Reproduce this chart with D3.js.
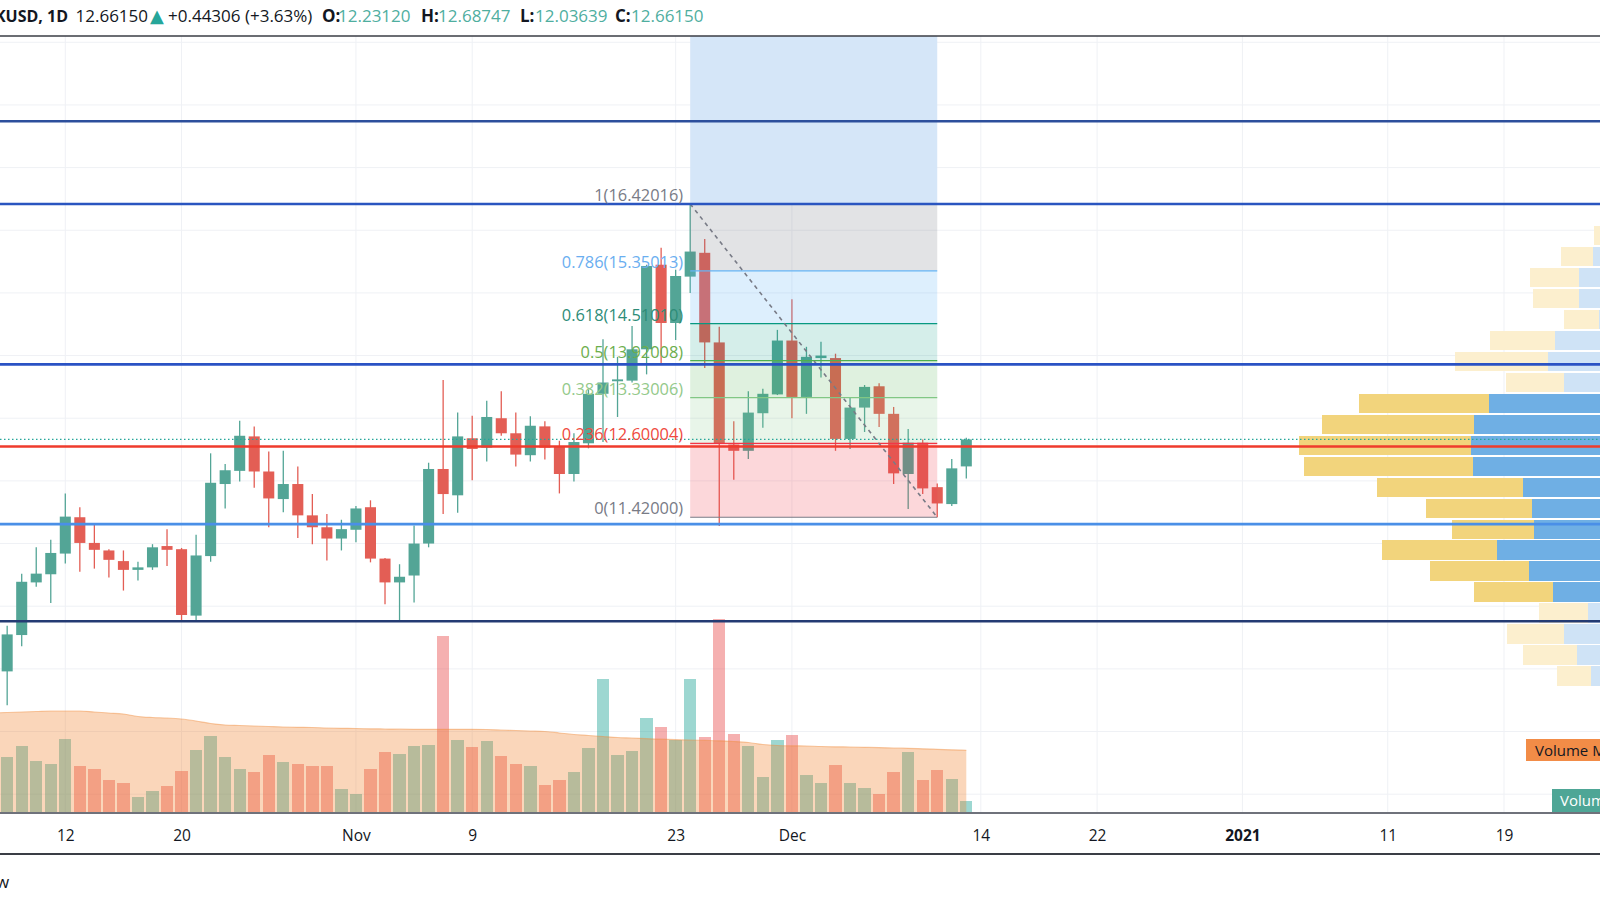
<!DOCTYPE html>
<html>
<head>
<meta charset="utf-8">
<script src="https://cdn.jsdelivr.net/npm/d3@7"></script>
<style>
body { margin: 0; background: #fff; }
svg { display: block; font-family: "Open Sans", "DejaVu Sans", sans-serif; }
</style>
</head>
<body>
<div id="chart-area"></div>
<script>
/*
*    LINKUSD daily candles, volume, fib retracement, visible range volume profile
*/

var width = 1600;
var height = 900;
var plotTop = 36;
var plotBottom = 813;

// daily bars, Oct 7 2020 .. Dec 13 2020 (first one sits just off the left edge)
var firstDay = "2020-10-07";
var lastDay = "2020-12-13";

var opens = [9.30, 8.96, 9.54, 10.38, 10.51, 10.84, 11.42, 11.01, 10.89, 10.72, 10.58, 10.62, 10.96, 10.91, 9.85, 10.80, 11.95, 12.16, 12.71, 12.15, 11.71, 11.95, 11.45, 11.26, 11.08,
    11.22, 11.58, 10.76, 10.38, 10.49, 11.00, 12.19, 11.77, 12.68, 12.53, 13.00, 12.76, 12.41, 12.87, 12.55, 12.11, 12.60, 13.39, 13.59, 13.60, 14.10, 15.45, 14.52, 15.26, 15.64, 14.21, 12.58, 12.48, 13.08, 13.38,
    14.24, 13.34, 13.96, 13.96, 12.67, 13.17, 13.51, 13.07, 12.11, 12.61, 11.90, 11.63, 12.2312];
var highs = [9.45, 9.69, 10.52, 10.94, 11.06, 11.80, 11.58, 11.31, 10.91, 10.89, 10.71, 10.99, 11.23, 10.93, 11.14, 12.44, 12.27, 12.96, 12.87, 12.47, 12.48, 12.23, 11.79, 11.47, 11.38,
    11.60, 11.69, 10.77, 10.67, 11.29, 12.29, 13.61, 13.09, 13.04, 13.28, 13.43, 13.09, 13.03, 12.95, 12.64, 12.76, 13.46, 14.26, 13.98, 14.47, 15.45, 15.72, 15.37, 16.42016, 15.86, 14.46, 12.95, 13.43, 13.47, 14.41,
    14.90, 14.14, 14.22, 14.03, 13.34, 13.53, 13.56, 13.18, 12.83, 12.66, 11.96, 12.35, 12.68747];
var lows = [8.85, 8.42, 9.36, 10.31, 10.05, 10.68, 10.55, 10.60, 10.46, 10.25, 10.41, 10.58, 10.64, 9.77, 9.78, 10.71, 11.56, 11.99, 11.89, 11.26, 11.50, 11.09, 10.99, 10.73, 10.89,
    11.02, 10.70, 10.03, 9.76, 10.06, 10.94, 11.47, 11.49, 12.01, 12.31, 12.72, 12.23, 12.31, 12.34, 11.80, 11.99, 12.52, 12.62, 13.02, 13.57, 13.70, 13.88, 14.25, 15.00, 13.80, 11.28, 12.02, 12.35, 12.85, 13.37,
    13.00, 13.07, 13.65, 12.48, 12.51, 12.78, 12.86, 11.95, 11.55, 11.79, 11.42, 11.60, 12.03639];
var closes = [8.96, 9.55, 10.39, 10.52, 10.85, 11.43, 11.01, 10.90, 10.74, 10.58, 10.62, 10.94, 10.90, 9.86, 10.81, 11.97, 12.17, 12.72, 12.15, 11.72, 11.95, 11.45, 11.26, 11.08, 11.23,
    11.56, 10.76, 10.38, 10.47, 11.00, 12.19, 11.79, 12.71, 12.51, 13.02, 12.76, 12.42, 12.88, 12.53, 12.11, 12.62, 13.39, 13.57, 13.62, 14.10, 15.43, 14.52, 15.27, 15.66, 14.21, 12.59, 12.48, 13.09, 13.39, 14.24,
    13.34, 13.98, 14.00, 12.67, 13.17, 13.50, 13.07, 12.12, 12.61, 11.88, 11.64, 12.20, 12.6615];
// volume in millions
var volumes = [6.0, 5.57, 6.7, 5.23, 4.87, 7.4, 4.73, 4.37, 3.27, 3.03, 1.57, 2.2, 2.7, 4.17, 6.33, 7.73, 5.57, 4.43, 4.1, 5.83, 5.07, 4.93, 4.67, 4.73, 2.43,
    1.87, 4.43, 6.13, 5.9, 6.73, 6.83, 17.7, 7.3, 6.57, 7.23, 5.7, 4.87, 4.67, 2.83, 3.33, 4.1, 6.53, 13.43, 5.8, 6.17, 9.53, 8.57, 7.3, 13.43, 7.6, 19.37, 7.93, 6.7, 3.63, 7.3,
    7.77, 3.77, 3.0, 4.8, 3.0, 2.5, 1.9, 4.1, 6.07, 3.33, 4.3, 3.4, 1.17];
var volumeMA = [10.0, 10.05, 10.1, 10.15, 10.2, 10.2, 10.2, 10.1, 10.0, 9.9, 9.65, 9.55, 9.5, 9.4, 9.2, 8.95, 8.8, 8.75, 8.7, 8.65, 8.6, 8.57, 8.55, 8.5, 8.47,
    8.45, 8.42, 8.4, 8.38, 8.37, 8.37, 8.37, 8.37, 8.37, 8.35, 8.3, 8.25, 8.2, 8.15, 8.0, 7.85, 7.75, 7.65, 7.55, 7.5, 7.43, 7.38, 7.33, 7.3, 7.26, 7.22, 7.15, 7.05, 6.85, 6.75,
    6.72, 6.7, 6.65, 6.62, 6.6, 6.57, 6.54, 6.5, 6.47, 6.42, 6.37, 6.32, 6.27];

// date axis
var tickDays = ["2020-10-12", "2020-10-20", "2020-11-01", "2020-11-09", "2020-11-23", "2020-12-01", "2020-12-14", "2020-12-22", "2021-01-01", "2021-01-11", "2021-01-19"];
var tickLabels = ["12", "20", "Nov", "9", "23", "Dec", "14", "22", "2021", "11", "19"];

// fib retracement drawn from the Nov 24 high to the Dec 11 low
var fibAnchors = ["2020-11-24", "2020-12-11"];
var fibRatios = [1, 0.786, 0.618, 0.5, 0.382, 0.236, 0];
var fibPrices = [16.42016, 15.35013, 14.51010, 13.92008, 13.33006, 12.60004, 11.42000];

// horizontal support / resistance lines
var levelPrices = [17.74, 16.42, 13.86, 12.55, 11.31, 9.76];

// visible range volume profile, 24 rows from 16.42 down to 8.38 (thousands)
var vpHigh = 16.42016;
var vpLow = 8.38;
var vpUp = [30, 50, 57, 71, 71, 51, 95, 102, 86, 161, 176, 179, 177, 127, 118, 116, 153, 121, 97, 62, 86, 73, 59, 30];
var vpDown = [10, 6, 32, 49, 46, 35, 65, 93, 58, 130, 152, 172, 169, 146, 106, 82, 115, 99, 79, 49, 57, 54, 34, 10];
var vpValueArea = [9, 18];

var parseDay = d3.utcParse("%Y-%m-%d");
var dates = d3.utcDay.range(parseDay(firstDay), d3.utcDay.offset(parseDay(lastDay), 1));
var days = dates.map((d, i) => ({
    date: d, open: opens[i], high: highs[i], low: lows[i], close: closes[i],
    volume: volumes[i], ma: volumeMA[i]
}));
var tickDates = tickDays.map(parseDay);

var upColor = "#53a596";
var downColor = "#e35e55";

var svg = d3.select("#chart-area").append("svg")
    .attr("width", width)
    .attr("height", height);

svg.append("defs").append("clipPath")
    .attr("id", "plot-clip")
    .append("rect")
        .attr("x", 0)
        .attr("y", plotTop)
        .attr("width", width)
        .attr("height", plotBottom - plotTop);

var x = d3.scaleUtc()
    .domain([parseDay("2020-10-12"), parseDay("2021-01-19")])
    .range([65.3, 1504]);

var y = d3.scaleLinear()
    .domain([6.70, 19.10])
    .range([plotBottom, plotTop]);

var yVol = d3.scaleLinear()
    .domain([0, 20])
    .range([plotBottom, plotBottom - 200]);

var xVp = d3.scaleLinear()
    .domain([0, 100])
    .range([1650, 1550]);

var step = x(dates[1]) - x(dates[0]);
var bodyW = step * 0.76;
var volW = step * 0.85;

var g = svg.append("g").attr("clip-path", "url(#plot-clip)");

// grid
g.append("g").selectAll("line")
    .data(tickDates)
    .enter().append("line")
        .attr("x1", (d) => x(d)).attr("x2", (d) => x(d))
        .attr("y1", plotTop).attr("y2", plotBottom)
        .attr("stroke", "#eff1f5");

g.append("g").selectAll("line")
    .data(y.ticks(12))
    .enter().append("line")
        .attr("x1", 0).attr("x2", width)
        .attr("y1", (d) => y(d)).attr("y2", (d) => y(d))
        .attr("stroke", "#eff1f5");

// date range box above the fib
var fx0 = x(parseDay(fibAnchors[0]));
var fx1 = x(parseDay(fibAnchors[1]));
g.append("rect")
    .attr("x", fx0)
    .attr("y", plotTop)
    .attr("width", fx1 - fx0)
    .attr("height", y(fibPrices[0]) - plotTop)
    .attr("fill", "#d5e6f8");

// volume profile
var rowSize = (vpHigh - vpLow) / vpUp.length;
var vpRows = vpUp.map((u, i) => ({
    up: u, down: vpDown[i],
    top: vpHigh - i * rowSize, bottom: vpHigh - (i + 1) * rowSize,
    inVA: i >= vpValueArea[0] && i <= vpValueArea[1]
}));
var vp = g.append("g").attr("shape-rendering", "crispEdges");
vp.selectAll(".vp-up")
    .data(vpRows)
    .enter().append("rect")
        .attr("x", (d) => xVp(d.up))
        .attr("y", (d) => y(d.top) + 0.7)
        .attr("width", (d) => xVp(0) - xVp(d.up))
        .attr("height", (d) => y(d.bottom) - y(d.top) - 1.4)
        .attr("fill", (d) => d.inVA ? "#6fafe4" : "#cfe3f6");
vp.selectAll(".vp-down")
    .data(vpRows)
    .enter().append("rect")
        .attr("x", (d) => xVp(d.up + d.down))
        .attr("y", (d) => y(d.top) + 0.7)
        .attr("width", (d) => xVp(d.up) - xVp(d.up + d.down))
        .attr("height", (d) => y(d.bottom) - y(d.top) - 1.4)
        .attr("fill", (d) => d.inVA ? "#f2d47c" : "#fcefce");

// volume bars, then the MA area over them
g.append("g").attr("shape-rendering", "crispEdges")
    .selectAll("rect")
    .data(days)
    .enter().append("rect")
        .attr("x", (d) => x(d.date) - volW / 2)
        .attr("y", (d) => yVol(d.volume))
        .attr("width", volW)
        .attr("height", (d) => yVol(0) - yVol(d.volume))
        .attr("fill", (d) => d.close >= d.open ? "rgba(38,166,154,0.45)" : "rgba(232,80,80,0.45)");

var maArea = d3.area()
    .x((d) => x(d.date))
    .y0(plotBottom)
    .y1((d) => yVol(d.ma))
    .curve(d3.curveMonotoneX);
g.append("path")
    .datum(days)
    .attr("d", maArea)
    .attr("fill", "rgba(240,128,40,0.32)");
g.append("path")
    .datum(days)
    .attr("d", maArea.lineY1())
    .attr("fill", "none")
    .attr("stroke", "rgba(240,140,60,0.45)")
    .attr("stroke-width", 1.2);

// candles
var candles = g.append("g").selectAll("g")
    .data(days)
    .enter().append("g");
candles.append("line")
    .attr("x1", (d) => x(d.date)).attr("x2", (d) => x(d.date))
    .attr("y1", (d) => y(d.high)).attr("y2", (d) => y(d.low))
    .attr("stroke", (d) => d.close >= d.open ? upColor : downColor)
    .attr("stroke-width", 1.3);
candles.append("rect")
    .attr("x", (d) => x(d.date) - bodyW / 2)
    .attr("y", (d) => y(Math.max(d.open, d.close)))
    .attr("width", bodyW)
    .attr("height", (d) => Math.max(1.5, Math.abs(y(d.open) - y(d.close))))
    .attr("fill", (d) => d.close >= d.open ? upColor : downColor);

// fib zones, lines and trend line
var zoneFills = ["rgba(120,123,134,0.21)", "rgba(100,181,246,0.22)", "rgba(8,153,129,0.17)",
    "rgba(76,175,80,0.18)", "rgba(129,199,132,0.18)", "rgba(242,54,69,0.2)"];
var fibLineColors = ["#787b86", "#64b5f6", "#089981", "#4caf50", "#81c784", "#f23645", "#787b86"];
var fibTextColors = ["#787b86", "#6aaef0", "#2e8c78", "#6cae4c", "#93c98a", "#ef4a40", "#787b86"];

g.append("g").selectAll("rect")
    .data(fibPrices.slice(0, -1))
    .enter().append("rect")
        .attr("x", fx0)
        .attr("y", (d) => y(d))
        .attr("width", fx1 - fx0)
        .attr("height", (d, i) => y(fibPrices[i + 1]) - y(d))
        .attr("fill", (d, i) => zoneFills[i]);

g.append("g").selectAll("line")
    .data(fibPrices)
    .enter().append("line")
        .attr("x1", fx0).attr("x2", fx1)
        .attr("y1", (d) => y(d)).attr("y2", (d) => y(d))
        .attr("stroke", (d, i) => fibLineColors[i])
        .attr("stroke-width", 1.2);

g.append("line")
    .attr("x1", fx0).attr("y1", y(fibPrices[0]))
    .attr("x2", fx1).attr("y2", y(fibPrices[fibPrices.length - 1]))
    .attr("stroke", "#787b86")
    .attr("stroke-width", 1.6)
    .attr("stroke-dasharray", "4,4");

// horizontal lines
var levelColors = ["#2d4f9c", "#2a55c0", "#2a52c4", "#ef3b2d", "#4a8fe7", "#243b73"];
g.append("g").selectAll("line")
    .data(levelPrices)
    .enter().append("line")
        .attr("x1", 0).attr("x2", width)
        .attr("y1", (d) => y(d)).attr("y2", (d) => y(d))
        .attr("stroke", (d, i) => levelColors[i])
        .attr("stroke-width", 2.6);

// last price
var lastClose = closes[closes.length - 1];
g.append("line")
    .attr("x1", 0).attr("x2", width)
    .attr("y1", y(lastClose)).attr("y2", y(lastClose))
    .attr("stroke", "#26a69a")
    .attr("stroke-width", 1.2)
    .attr("stroke-dasharray", "1.5,2.5");

// fib labels
g.append("g").selectAll("text")
    .data(fibPrices)
    .enter().append("text")
        .attr("x", fx0 - 7)
        .attr("y", (d) => y(d) - 3)
        .attr("text-anchor", "end")
        .style("font-size", "16.4px")
        .style("fill", (d, i) => fibTextColors[i])
        .text((d, i) => fibRatios[i] + "(" + d.toFixed(5) + ")");

// indicator labels at the right edge
svg.append("rect").attr("x", 1526).attr("y", 739).attr("width", 90).attr("height", 22).attr("fill", "#f28c47");
svg.append("text").attr("x", 1535).attr("y", 755.5).text("Volume MA")
    .style("font-size", "15px").style("fill", "#131722");
svg.append("rect").attr("x", 1552).attr("y", 789).attr("width", 60).attr("height", 23).attr("fill", "#4ea696");
svg.append("text").attr("x", 1560).attr("y", 806).text("Volume")
    .style("font-size", "15px").style("fill", "#ffffff");

// x Axis
var xAxisCall = d3.axisBottom(x)
    .tickValues(tickDates)
    .tickFormat((d, i) => tickLabels[i])
    .tickSize(0)
    .tickPadding(17);
var xAxis = svg.append("g")
    .attr("class", "x axis")
    .attr("transform", "translate(0, " + plotBottom + ")")
    .call(xAxisCall);
xAxis.select(".domain").remove();
xAxis.selectAll(".tick text")
    .style("font-family", "'Open Sans', sans-serif")
    .style("font-size", "15.5px")
    .style("fill", "#131722")
    .style("font-weight", (d, i) => tickLabels[i] === "2021" ? "bold" : "normal");

// frame lines
svg.append("line").attr("x1", 0).attr("x2", width).attr("y1", plotTop).attr("y2", plotTop)
    .attr("stroke", "#3a3d45").attr("stroke-width", 1.5);
svg.append("line").attr("x1", 0).attr("x2", width).attr("y1", plotBottom).attr("y2", plotBottom)
    .attr("stroke", "#6f727b").attr("stroke-width", 2);
svg.append("line").attr("x1", 0).attr("x2", width).attr("y1", 854).attr("y2", 854)
    .attr("stroke", "#3a3d45").attr("stroke-width", 2);

// header
var firstOpen = opens[opens.length - 1];
var header = [
    { t: "LINKUSD, 1D", x: 68, anchor: "end", bold: true, color: "#131722", size: 16 },
    { t: lastClose.toFixed(5), x: 75.5, color: "#131722" },
    { t: "\u25B2", x: 150, color: "#26a69a", size: 18 },
    { t: "+0.44306 (+3.63%)", x: 168, color: "#131722" },
    { t: "O:", x: 322, bold: true, color: "#131722" },
    { t: firstOpen.toFixed(5), x: 338, color: "#4fae9f" },
    { t: "H:", x: 421, bold: true, color: "#131722" },
    { t: highs[highs.length - 1].toFixed(5), x: 438, color: "#4fae9f" },
    { t: "L:", x: 520, bold: true, color: "#131722" },
    { t: lows[lows.length - 1].toFixed(5), x: 535, color: "#4fae9f" },
    { t: "C:", x: 615, bold: true, color: "#131722" },
    { t: lastClose.toFixed(5), x: 631, color: "#4fae9f" }
];
svg.append("g").selectAll("text")
    .data(header)
    .enter().append("text")
        .attr("x", (d) => d.x)
        .attr("y", 22)
        .attr("text-anchor", (d) => d.anchor || "start")
        .style("font-size", (d) => (d.size || 17) + "px")
        .style("font-weight", (d) => d.bold ? "bold" : "normal")
        .style("fill", (d) => d.color)
        .text((d) => d.t);

svg.append("text")
    .attr("x", -4)
    .attr("y", 888)
    .text("w")
    .style("font-size", "17px")
    .style("fill", "#131722");
</script>
</body>
</html>
